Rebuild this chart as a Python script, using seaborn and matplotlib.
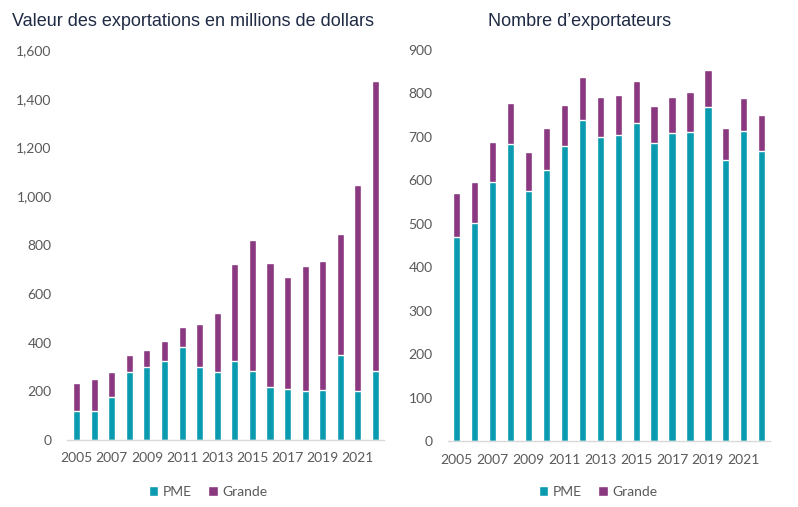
import matplotlib
matplotlib.use("Agg")
import matplotlib.pyplot as plt
import seaborn as sns
import pandas as pd
import numpy as np
from matplotlib.patches import Patch
from matplotlib.ticker import FuncFormatter

years = list(range(2005, 2023))
year_labels = [str(y) if (y - 2005) % 2 == 0 and y <= 2021 else "" for y in years]

# Valeur des exportations (millions $)
valeur_pme = [120, 120, 175, 277, 298, 326, 380, 301, 277, 326, 282, 219, 211, 199, 207, 347, 203, 285]
valeur_grande = [115, 130, 105, 73, 73, 81, 85, 176, 246, 396, 538, 507, 458, 515, 527, 498, 842, 1187]

# Nombre d'exportateurs
nombre_pme = [470, 502, 596, 684, 575, 624, 679, 739, 700, 704, 732, 686, 709, 711, 769, 647, 713, 667]
nombre_grande = [101, 94, 92, 94, 90, 96, 94, 99, 92, 92, 97, 85, 83, 92, 85, 73, 76, 83]

series_names = ["PME", "Grande"]
title_left = "Valeur des exportations en millions de dollars"
title_right = "Nombre d\u2019exportateurs"

TEAL = "#0A9BB0"
PURPLE = "#8A3880"
TICK_COLOR = "#595959"
TITLE_COLOR = "#1F2A44"

sns.set_theme(style="white")
plt.rcParams["font.family"] = ["Lato", "DejaVu Sans"]

fig = plt.figure(figsize=(7.98, 5.07), dpi=100)
ax1 = fig.add_axes([67/798, 1-440/507, 317/798, 390/507])
ax2 = fig.add_axes([448/798, 1-441/507, 322/798, 391/507])


def draw(ax, pme, grande, ymax, step, xlim):
    df = pd.DataFrame({"year": [str(y) for y in years],
                       "pme": pme,
                       "total": np.array(pme) + np.array(grande)})
    sns.barplot(data=df, x="year", y="total", color=PURPLE, width=0.4,
                saturation=1, ax=ax)
    sns.barplot(data=df, x="year", y="pme", color=TEAL, width=0.4,
                saturation=1, ax=ax)
    ax.set_ylim(0, ymax)
    ax.set_xlim(*xlim)
    ax.set_yticks(np.arange(0, ymax + 1, step))
    ax.yaxis.set_major_formatter(FuncFormatter(lambda v, p: f"{int(v):,}"))
    ax.set_xticks(range(len(years)))
    ax.set_xticklabels(year_labels)
    ax.set_xlabel("")
    ax.set_ylabel("")
    for s in ["top", "right", "left"]:
        ax.spines[s].set_visible(False)
    ax.spines["bottom"].set_color("#D9D9D9")
    ax.spines["bottom"].set_linewidth(1.0)
    ax.tick_params(axis="y", length=0, pad=11, labelsize=10, labelcolor=TICK_COLOR)
    ax.tick_params(axis="x", length=0, pad=9, labelsize=10, labelcolor=TICK_COLOR)
    ax.grid(False)


draw(ax1, valeur_pme, valeur_grande, 1600, 200, (-0.54, 17.48))
draw(ax2, nombre_pme, nombre_grande, 900, 100, (-0.485, 17.46))

fig.text(12/798, 1-22/507, title_left, ha="left", va="center",
         fontsize=13, color=TITLE_COLOR, family=["Liberation Sans", "DejaVu Sans"])
fig.text(580/798, 1-22/507, title_right, ha="center", va="center",
         fontsize=13, color=TITLE_COLOR, family=["Liberation Sans", "DejaVu Sans"])

handles = [Patch(facecolor=TEAL, label=series_names[0]),
           Patch(facecolor=PURPLE, label=series_names[1])]
for cx in (208/798, 598/798):
    fig.legend(handles=handles, loc="center", bbox_to_anchor=(cx, 1-492/507),
               ncol=2, frameon=False, fontsize=10, handlelength=0.7,
               handleheight=0.7, handletextpad=0.3, columnspacing=1.2,
               labelcolor=TICK_COLOR)

fig.savefig("out.png", dpi=100, facecolor="white")
